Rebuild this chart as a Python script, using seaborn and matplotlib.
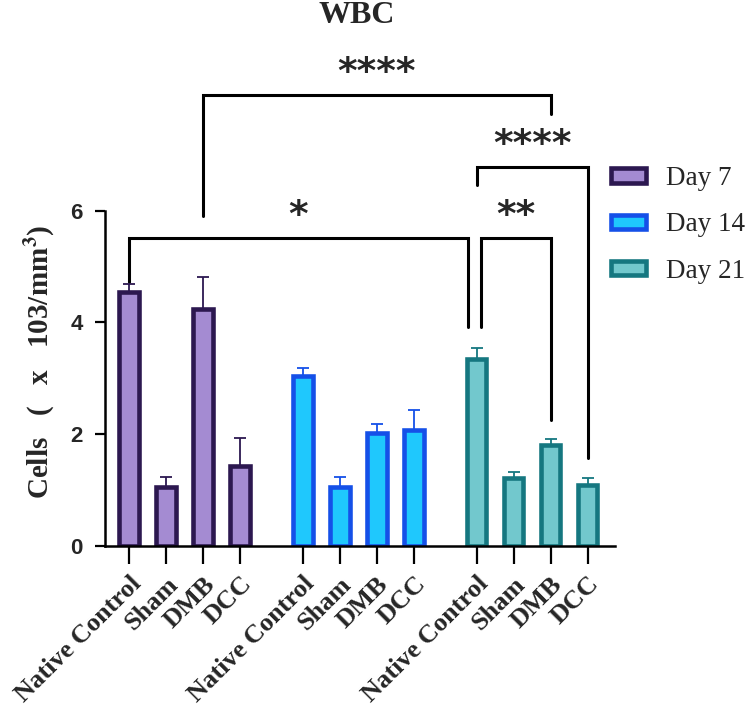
import numpy as np
import pandas as pd
import matplotlib
matplotlib.use("Agg")
import matplotlib.pyplot as plt
import seaborn as sns

# bar groups
days = ['Day 7', 'Day 14', 'Day 21']
groups = ['Native Control', 'Sham', 'DMB', 'DCC']
day7 = [4.55, 1.06, 4.24, 1.43]
day14 = [3.04, 1.06, 2.03, 2.08]
day21 = [3.35, 1.21, 1.80, 1.09]
err7 = [0.14, 0.18, 0.58, 0.51]
err14 = [0.15, 0.18, 0.15, 0.35]
err21 = [0.20, 0.11, 0.12, 0.13]

# significance brackets: (day, group) left, (day, group) right, bracket level, leg ends, label
brackets = [
    ((0, 2), (2, 2), 8.07, 5.90, 7.73, '****'),
    ((2, 0), (2, 3), 6.78, 6.46, 1.58, '****'),
    ((0, 0), (2, 0), 5.51, 4.73, 3.92, '*'),
    ((2, 0), (2, 2), 5.51, 3.92, 2.26, '**'),
]

fill_colors = {'Day 7': '#A48BD2', 'Day 14': '#1FC8FD', 'Day 21': '#72C8CD'}
edge_colors = {'Day 7': '#2C1850', 'Day 14': '#1550E8', 'Day 21': '#157780'}

GAP = 1.70  # extra space between day groups


def xpos(d, g):
    return d * (len(groups) - 1 + GAP) + g


rows = []
for d, (vals, errs) in enumerate([(day7, err7), (day14, err14), (day21, err21)]):
    for g, (v, e) in enumerate(zip(vals, errs)):
        rows.append({'day': days[d], 'group': groups[g], 'pos': xpos(d, g), 'value': v, 'err': e})
df = pd.DataFrame(rows)

sns.set_style('ticks')
plt.rcParams['font.family'] = ['Liberation Serif', 'DejaVu Sans']
plt.rcParams['mathtext.fontset'] = 'stix'

fig = plt.figure(figsize=(7.5, 7.11), dpi=100)
ax = fig.add_axes([0.14, 0.232, 0.68, 0.4717])

sns.barplot(data=df, x='pos', y='value', hue='day', hue_order=days,
            palette=fill_colors, native_scale=True, dodge=False, width=0.53,
            errorbar=None, saturation=1, legend=False, ax=ax)

bar_conts = list(ax.containers)
for cont, day in zip(bar_conts, days):
    for p in cont.patches:
        p.set_edgecolor(edge_colors[day])
        p.set_linewidth(3.3)
    sub = df[df['day'] == day]
    ax.errorbar(sub['pos'], sub['value'], yerr=[np.zeros(len(sub)), sub['err']],
                fmt='none', ecolor=edge_colors[day], elinewidth=1.3,
                capsize=4.3, capthick=1.3, zorder=3)

ax.set_xlim(-0.65, 13.14)
ax.set_ylim(0, 6)
ax.set_yticks([0, 2, 4, 6])
ax.set_yticklabels(['0', '2', '4', '6'], family='Liberation Sans', fontweight='bold', fontsize=16)
ax.set_xticks(df['pos'])
ax.set_xticklabels(df['group'], rotation=45, ha='right', va='top',
                   rotation_mode='anchor', fontweight='bold', fontsize=19)
ax.tick_params(axis='y', length=7, width=1.6, pad=9, color='black')
ax.tick_params(axis='x', length=13, width=1.6, pad=6, color='black')
ax.set_xlabel('')
ax.set_ylabel('')
for s in ['top', 'right']:
    ax.spines[s].set_visible(False)
for s in ['left', 'bottom']:
    ax.spines[s].set_linewidth(1.8)
    ax.spines[s].set_color('black')

# brackets
for (d1, g1), (d2, g2), level, y1, y2, label in brackets:
    x1 = xpos(d1, g1)
    x2 = xpos(d2, g2)
    if label == '**':
        x1 += 0.13
    if label == '*':
        x2 -= 0.24
    ax.plot([x1, x1, x2, x2], [y1, level, level, y2], color='black', lw=2.2,
            clip_on=False, solid_joinstyle='miter')
    ax.text((x1 + x2) / 2, level + 0.40, label, ha='center', va='center',
            family='DejaVu Sans', fontweight='bold', fontsize=27, clip_on=False)

fig.text(0.476, 0.978, 'WBC', ha='center', va='center', fontweight='bold', fontsize=23)
fig.text(0.053, 1 - 361.5 / 711, r'Cells   (   x   103/mm$^{\mathbf{3}}$)', rotation=90,
         ha='center', va='center', fontweight='bold', fontsize=21)

handles = [c.patches[0] for c in bar_conts]
fig.legend(handles, days, loc='upper left', bbox_to_anchor=(0.814, 0.766),
           bbox_transform=fig.transFigure, frameon=False, fontsize=19.5,
           handlelength=1.3, handleheight=0.45, handletextpad=0.76,
           labelspacing=0.78, borderpad=0, borderaxespad=0)

fig.savefig('out.png', dpi=100)
